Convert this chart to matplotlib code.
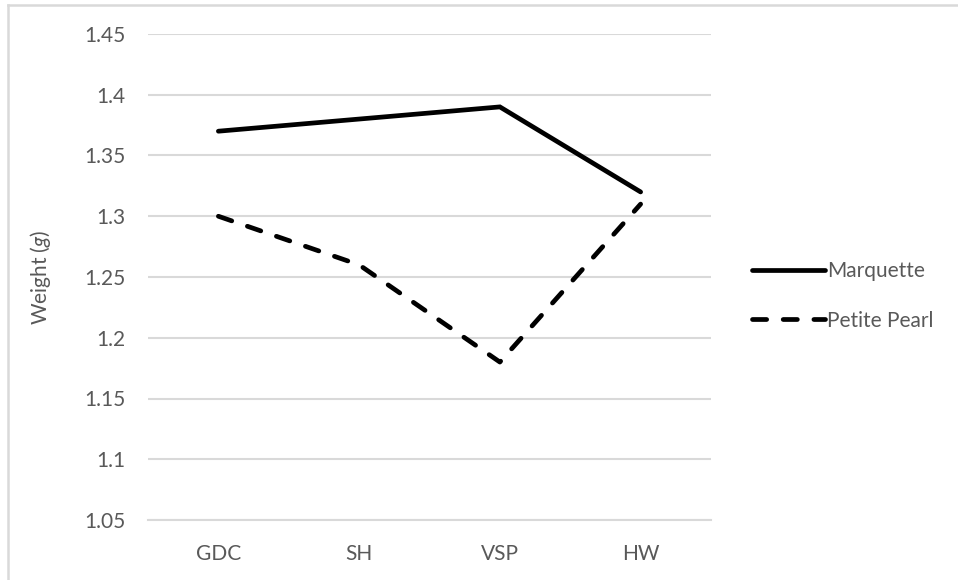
import matplotlib
matplotlib.use("Agg")
import matplotlib.pyplot as plt
from matplotlib.lines import Line2D

categories = ["GDC", "SH", "VSP", "HW"]
marquette = [1.37, 1.38, 1.39, 1.32]
petite_pearl = [1.30, 1.26, 1.18, 1.31]
yticks = [1.05, 1.10, 1.15, 1.20, 1.25, 1.30, 1.35, 1.40, 1.45]
ytick_labels = ["1.05", "1.1", "1.15", "1.2", "1.25", "1.3", "1.35", "1.4", "1.45"]

plt.rcParams['font.family'] = ['Lato', 'DejaVu Sans']
plt.rcParams['mathtext.fontset'] = 'custom'
plt.rcParams['mathtext.it'] = 'Lato:italic'
grey = "#595959"
fs = 15

fig = plt.figure(figsize=(9.58, 5.8), dpi=100)
ax = fig.add_axes([148/958, 1-520/580, (711-148)/958, (520-34)/580])

x = list(range(len(categories)))
lw = 3.4
ax.plot(x, marquette, color="black", lw=lw, solid_capstyle="round", solid_joinstyle="miter", label="Marquette")
ax.plot(x, petite_pearl, color="black", lw=lw, dashes=(3, 3.5), dash_capstyle="round", label="Petite Pearl")

ax.set_xlim(-0.5, 3.5)
ax.set_ylim(1.05, 1.45)
ax.set_xticks(x)
ax.set_xticklabels(categories)
ax.set_yticks(yticks)
ax.set_yticklabels(ytick_labels)
ax.yaxis.grid(True, color="#d9d9d9", lw=1.5)
ax.set_axisbelow(True)
for s in ["top", "right", "left"]:
    ax.spines[s].set_visible(False)
ax.spines["bottom"].set_color("#d9d9d9")
ax.spines["bottom"].set_linewidth(1.5)
ax.tick_params(axis="both", length=0, labelsize=fs, labelcolor=grey)
ax.tick_params(axis="y", pad=16)
ax.tick_params(axis="x", pad=17)

ax.set_ylabel("Weight (" + r"$\it{g}$" + ")", fontsize=fs, color=grey)
ax.yaxis.set_label_coords(-0.168, 0.5)

handles = [Line2D([], [], color="black", lw=lw, solid_capstyle="round"),
           Line2D([], [], color="black", lw=lw, dashes=(3, 3.5), dash_capstyle="round")]
leg = fig.legend(handles, ["Marquette", "Petite Pearl"], loc="center left",
                 bbox_to_anchor=(733/958, 1-296/580), frameon=False,
                 fontsize=fs, handlelength=3.5, handletextpad=0.1, labelspacing=1.4)
for t in leg.get_texts():
    t.set_color(grey)

# outer chart border (top and left visible)
fig.add_artist(Line2D([8/958, 8/958], [0, 1-5/580], transform=fig.transFigure, color="#d9d9d9", lw=1.8))
fig.add_artist(Line2D([8/958, 1], [1-5/580, 1-5/580], transform=fig.transFigure, color="#d9d9d9", lw=1.8))

fig.savefig("out.png", dpi=100)
